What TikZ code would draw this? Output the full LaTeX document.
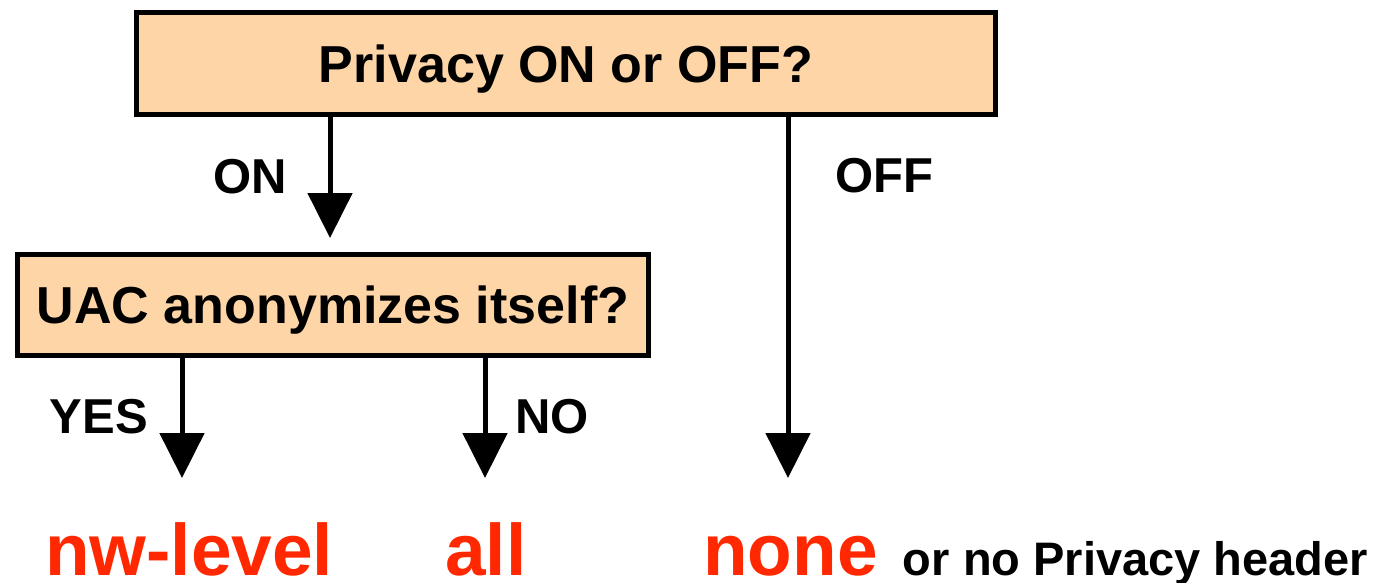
\documentclass[tikz,border=0pt]{standalone}
\usepackage{fontspec}
\setmainfont{Liberation Sans}
\usetikzlibrary{arrows.meta}
\usetikzlibrary{positioning}
\definecolor{boxfill}{RGB}{253,213,167}
\definecolor{resred}{RGB}{255,40,0}

\begin{document}
\begin{tikzpicture}[x=1pt,y=-1pt,
    qbox/.style={draw,line width=5pt,fill=boxfill,inner sep=0pt,text depth=0pt,font=\fontsize{52}{60}\selectfont\bfseries},
    flow/.style={line width=5pt,-{Triangle[width=44pt,length=45pt]}},
    lbl/.style={inner sep=0pt,font=\fontsize{49}{60}\selectfont\bfseries},
    res/.style={inner sep=0pt,text depth=0pt,text=resred,font=\fontsize{73}{80}\selectfont\bfseries}]

    \useasboundingbox (0,0) rectangle (1384,582);

    \node[qbox,minimum width=859pt,minimum height=102pt] (privacy) at (566,63.5) {Privacy ON or OFF?};
    \node[qbox,minimum width=631pt,minimum height=101pt] (uac) at (333,305) {UAC anonymizes itself?};

    \coordinate (onend)  at (330,238);
    \coordinate (offend) at (788,478);
    \coordinate (yesend) at (182,478);
    \coordinate (noend)  at (485,478);

    \draw[flow] (privacy.south -| onend) -- (onend);
    \draw[flow] (privacy.south -| offend) -- (offend);
    \draw[flow] (uac.south -| yesend) -- (yesend);
    \draw[flow] (uac.south -| noend) -- (noend);

    \node[lbl,anchor=base east] (on)  at (287,193) {ON};
    \node[lbl,anchor=base west] (off) at (835,192) {OFF};
    \node[lbl,anchor=base east] (yes) at (148,433) {YES};
    \node[lbl,anchor=base west] (no)  at (515,433) {NO};

    \node[res,anchor=base west] (nwlevel) at (45,575)  {nw-level};
    \node[res,anchor=base west] (all)     at (445,575) {all};
    \node[res,anchor=base west] (none)    at (703,575) {none};
    \node[inner sep=0pt,anchor=base west,font=\fontsize{47}{56}\selectfont\bfseries] (noheader)
        at ([xshift=25pt]none.base east) {or no Privacy header};
\end{tikzpicture}
\end{document}
